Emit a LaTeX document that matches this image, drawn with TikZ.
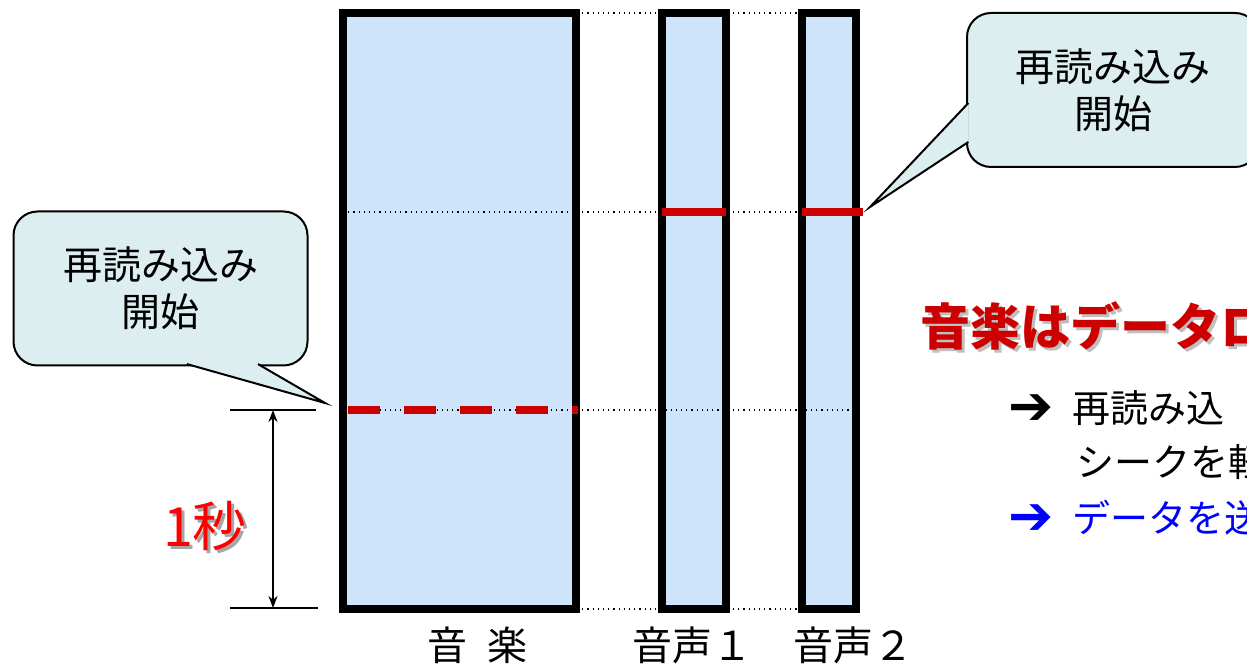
\documentclass[tikz,border=0pt]{standalone}
\usepackage{fontspec}
\setmainfont{Noto Sans CJK JP}
\newfontfamily\symfont{DejaVu Sans}
\usetikzlibrary{arrows.meta,positioning}
\definecolor{trackfill}{HTML}{CDE4FB}
\definecolor{callfill}{HTML}{DCEEF0}
\definecolor{markred}{HTML}{CC0000}
\newcommand\shadowed[2][black!30]{\rlap{\kern1.5pt\raisebox{-1.5pt}{\textcolor{#1}{#2}}}#2}
\newcommand\bigarrow{\raisebox{-1pt}{\symfont\bfseries\fontsize{27}{27}\selectfont ➔}\hspace{0.5em}}
\tikzset{track/.style={draw,line width=4pt,fill=trackfill,outer sep=0pt,minimum height=298pt},guide/.style={dotted,line width=0.6pt},redmark/.style={markred,line width=4pt},bubble/.style={draw,line width=1pt,fill=callfill,rounded corners=12pt,outer sep=0pt,minimum width=147pt,minimum height=77pt,align=center,font=\fontsize{19.5}{23.5}\selectfont},tail/.style={draw,line width=1pt,fill=callfill,line join=miter},dim/.style={line width=1pt},tracklabel/.style={font=\fontsize{20}{24}\selectfont},point/.style={anchor=west,inner sep=0pt,font=\fontsize{19}{23}\selectfont}}

\begin{document}
\begin{tikzpicture}[x=0.5pt,y=-0.5pt]
\useasboundingbox (0,0) rectangle (1247,667);
\node[track,minimum width=116.5pt] (music) at (459.5,311) {};\node[track,minimum width=31.75pt] (voice1) at (693.75,311) {};\node[track,minimum width=27pt] (voice2) at (829,311) {};
\coordinate (mark) at (0,212);\coordinate (reload) at (0,410);
\draw[guide] (music.north west) -- (voice2.north east);\draw[guide] (music.west |- mark) -- (voice2.east |- mark);\draw[guide] (music.west |- reload) -- ([xshift=3pt]voice2.east |- reload);\draw[guide] (music.south west) -- (voice2.south east);
\draw[redmark] (voice1.west |- mark) -- (voice1.east |- mark);\draw[redmark] (voice2.west |- mark) -- ([xshift=3.5pt]voice2.east |- mark);
\draw[redmark,dash pattern=on 16pt off 12pt] ([xshift=2.5pt]music.west |- reload) -- ([xshift=1pt]music.east |- reload);
\node[tracklabel] (musiclbl) at (477,645) {音\hspace{0.5em}楽};\node[tracklabel] (voice1lbl) at (692,645) {音声１};\node[tracklabel] (voice2lbl) at (853,645) {音声２};
% one second span
\coordinate (sectop) at (273,410);\coordinate (secbot) at (273,608);
\draw[dim] (230,410) -- (316,410);\draw[dim] (230,608) -- (318,608);
\draw[dim,{Stealth[length=6pt,width=4.5pt]}-{Stealth[length=6pt,width=4.5pt]}] (sectop) -- (secbot);
\node[font=\fontsize{27}{30}\selectfont,text=red] (second) at (205,527) {\shadowed[black!35]{1秒}};
% callouts
\node[bubble] (lbubble) at (160.5,288.5) {再読み込み\\開始};\coordinate (ltip) at (325,403);
\path[tail] ([xshift=13.25pt,yshift=0.7pt]lbubble.south) -- (ltip) -- ([xshift=48.75pt,yshift=0.7pt]lbubble.south);
\begin{scope}
\clip (0,0) rectangle (1247,667);
\node[bubble,minimum width=146pt] (rbubble) at (1113,90) {再読み込み\\開始};\coordinate (rtip) at (870,207);
\path[tail] ([xshift=0.7pt,yshift=-6.5pt]rbubble.west) -- (rtip) -- ([xshift=0.7pt,yshift=-26pt]rbubble.west);
\node[point,font=\bfseries\fontsize{25}{28}\selectfont,text=markred] (claim) at (920,327) {\shadowed[black!25]{音楽はデータロ}};
\node[point] (reseek) at (1008,408) {\bigarrow 再読み込};
\node[point] (seek) at (1076,462) {シークを軽};
\node[point,text=blue] (send) at (1008,518) {\bigarrow データを送};
\end{scope}
\end{tikzpicture}
\end{document}
